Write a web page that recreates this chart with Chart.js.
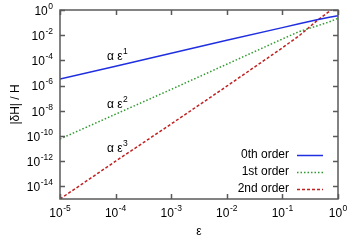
<!DOCTYPE html>
<html>
<head>
<meta charset="utf-8">
<script src="https://cdn.jsdelivr.net/npm/chart.js@4.4.1/dist/chart.umd.min.js"></script>
<style>
  html, body { margin: 0; padding: 0; background: #fff; }
  #wrap { width: 349px; height: 245px; }
</style>
</head>
<body>
<div id="wrap"><canvas id="myChart"></canvas></div>
<script>
// values (log-log)
const eps    = [1e-5, 1e-4, 1e-3, 1e-2, 1e-1, 0.2, 0.4, 0.7, 1];
const order0 = [3.3e-6, 3.5e-5, 3.7e-4, 3.9e-3, 0.04, 0.08, 0.16, 0.27, 0.35];
const order1 = [5.8e-11, 5.4e-9, 5e-7, 5e-5, 5e-3, 0.0195, 0.051, 0.115, 0.22];
const order2 = [1e-15, 1e-12, 9e-10, 9e-7, 1e-3, 9e-3, 0.12, 0.8, 2.5];
const seriesLabels = ['0th order', '1st order', '2nd order'];
const xTickExps = [-5, -4, -3, -2, -1, 0];
const yTickExps = [0, -2, -4, -6, -8, -10, -12, -14];
const noteText = ['α ε', 'α ε', 'α ε'];
const notePow = ['1', '2', '3'];
const noteX = [7e-5, 7e-5, 7e-5];
const noteY = [1.9e-4, 2.9e-8, 9.3e-12];

const FONT = '"Liberation Sans", Arial, sans-serif';
const big = '12px ' + FONT;
const small = '8.5px ' + FONT;

function toPoints(ys) {
  return eps.map((x, i) => ({ x: x, y: ys[i] }));
}

function drawPow(ctx, base, exp, x, y, align) {
  ctx.font = big;
  const wb = ctx.measureText(base).width;
  ctx.font = small;
  const we = ctx.measureText(exp).width;
  let x0 = x;
  if (align === 'right') x0 = x - wb - we - 0.5;
  if (align === 'center') x0 = x - (wb + we + 0.5) / 2;
  ctx.textAlign = 'left';
  ctx.textBaseline = 'middle';
  ctx.font = big;
  ctx.fillText(base, x0, y);
  ctx.font = small;
  ctx.fillText(exp, x0 + wb + 0.5, y - 5);
}

const decor = {
  id: 'decor',
  afterDraw(chart) {
    const ctx = chart.ctx;
    const a = chart.chartArea;
    const xs = chart.scales.x, ys = chart.scales.y;
    ctx.save();

    // frame + inward ticks
    ctx.strokeStyle = '#5a5a5a';
    ctx.lineWidth = 1.5;
    ctx.strokeRect(a.left, a.top, a.right - a.left, a.bottom - a.top);
    const tl = 5;
    ctx.beginPath();
    xTickExps.forEach(e => {
      const px = Math.round(xs.getPixelForValue(Math.pow(10, e))) + 0.5;
      ctx.moveTo(px, a.bottom); ctx.lineTo(px, a.bottom - tl);
      ctx.moveTo(px, a.top); ctx.lineTo(px, a.top + tl);
    });
    yTickExps.forEach(e => {
      const py = Math.round(ys.getPixelForValue(Math.pow(10, e))) + 0.5;
      ctx.moveTo(a.left, py); ctx.lineTo(a.left + tl, py);
      ctx.moveTo(a.right, py); ctx.lineTo(a.right - tl, py);
    });
    ctx.stroke();

    // tick labels
    ctx.fillStyle = '#000';
    xTickExps.forEach(e => {
      const px = xs.getPixelForValue(Math.pow(10, e));
      drawPow(ctx, '10', String(e), px, a.bottom + 15, 'center');
    });
    yTickExps.forEach(e => {
      const py = ys.getPixelForValue(Math.pow(10, e));
      drawPow(ctx, '10', String(e), a.left - 7, py + 1.5, 'right');
    });

    // axis titles
    ctx.font = big;
    ctx.textAlign = 'center';
    ctx.textBaseline = 'middle';
    ctx.fillText('ε', (a.left + a.right) / 2, 232);
    ctx.save();
    ctx.translate(16, (a.top + a.bottom) / 2);
    ctx.rotate(-Math.PI / 2);
    ctx.fillText('|δH| / H', 0, 0);
    ctx.restore();

    // annotations
    noteText.forEach((t, i) => {
      drawPow(ctx, t, notePow[i], xs.getPixelForValue(noteX[i]), ys.getPixelForValue(noteY[i]), 'left');
    });

    // legend
    const rows = [155, 172, 189];
    chart.data.datasets.forEach((ds, i) => {
      ctx.font = big;
      ctx.textAlign = 'right';
      ctx.textBaseline = 'middle';
      ctx.fillStyle = '#000';
      ctx.fillText(ds.label, 289, rows[i]);
      ctx.strokeStyle = ds.borderColor;
      ctx.lineWidth = ds.borderWidth;
      ctx.setLineDash(ds.borderDash || []);
      ctx.beginPath();
      ctx.moveTo(297, rows[i] + 0.5);
      ctx.lineTo(323, rows[i] + 0.5);
      ctx.stroke();
    });
    ctx.setLineDash([]);
    ctx.restore();
  }
};

const ctx = document.getElementById('myChart').getContext('2d');
new Chart(ctx, {
  type: 'line',
  data: {
    datasets: [
      { label: seriesLabels[0], data: toPoints(order0), borderColor: '#1f2fe0', borderWidth: 1.5, borderDash: [] },
      { label: seriesLabels[1], data: toPoints(order1), borderColor: '#2f9a2f', borderWidth: 1.5, borderDash: [1.5, 2] },
      { label: seriesLabels[2], data: toPoints(order2), borderColor: '#c02020', borderWidth: 1.5, borderDash: [3, 2] }
    ]
  },
  options: {
    responsive: true,
    maintainAspectRatio: false,
    animation: false,
    layout: { padding: { left: 60, right: 11, top: 10, bottom: 46 } },
    elements: { point: { radius: 0 }, line: { tension: 0 } },
    plugins: { legend: { display: false }, tooltip: { enabled: false } },
    scales: {
      x: { type: 'logarithmic', min: 1e-5, max: 1, display: false },
      y: { type: 'logarithmic', min: 1e-15, max: 1, display: false }
    }
  },
  plugins: [decor]
});
</script>
</body>
</html>
